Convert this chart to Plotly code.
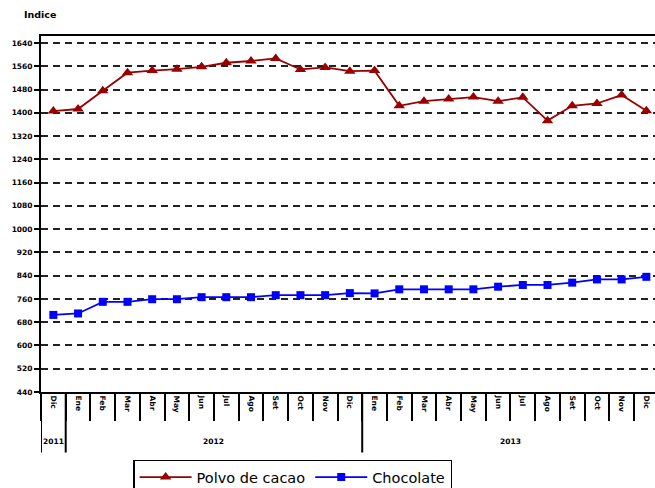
import plotly.graph_objects as go

months = ["Dic", "Ene", "Feb", "Mar", "Abr", "May", "Jun", "Jul", "Ago", "Set", "Oct", "Nov", "Dic",
          "Ene", "Feb", "Mar", "Abr", "May", "Jun", "Jul", "Ago", "Set", "Oct", "Nov", "Dic"]
years = ["2011", "2012", "2013"]
year_centers = [0, 6.5, 18.5]
year_breaks = [-0.5, 0.5, 12.5]

polvo_cacao = [1406, 1413, 1476, 1538, 1545, 1550, 1558, 1572, 1578, 1587, 1549, 1556, 1543,
               1545, 1424, 1440, 1447, 1454, 1440, 1453, 1373, 1424, 1432, 1461, 1407]
chocolate = [705, 710, 750, 750, 759, 759, 766, 766, 766, 773, 773, 773, 780,
             779, 793, 793, 793, 793, 802, 808, 808, 816, 827, 827, 836]
y_ticks = [440, 520, 600, 680, 760, 840, 920, 1000, 1080, 1160, 1240, 1320, 1400, 1480, 1560, 1640]

x = list(range(len(months)))

fig = go.Figure()
fig.add_trace(go.Scatter(
    x=x, y=polvo_cacao, name="Polvo de cacao", mode="lines+markers",
    line=dict(color="#990000", width=1.8),
    marker=dict(symbol="triangle-up", size=10, color="#990000"),
))
fig.add_trace(go.Scatter(
    x=x, y=chocolate, name="Chocolate", mode="lines+markers",
    line=dict(color="#0000FF", width=1.8),
    marker=dict(symbol="square", size=8, color="#0000FF"),
))

tickfont = dict(family="DejaVu Sans", size=7.5, color="black", weight="bold")

fig.update_xaxes(
    range=[-0.5, 24.35], tickmode="array", tickvals=x, ticktext=months,
    tickangle=90, tickfont=tickfont, ticks="", showgrid=False, zeroline=False,
    showline=True, linecolor="black", linewidth=2, mirror=True, automargin=False,
    minor=dict(ticks="outside", tick0=-0.5, dtick=1, ticklen=27, tickwidth=2,
               tickcolor="black", showgrid=False),
)
fig.update_yaxes(
    range=[440, 1664], tickmode="array", tickvals=y_ticks, tickfont=tickfont,
    ticks="outside", ticklen=5, tickwidth=1.5, tickcolor="black",
    showgrid=True, gridcolor="#222222", gridwidth=2, griddash="7px,5px",
    zeroline=False, showline=True, linecolor="black", linewidth=2, automargin=False,
)

for xb in year_breaks:
    fig.add_shape(type="line", xref="x", yref="paper", x0=xb, x1=xb, y0=0, y1=-0.17,
                  line=dict(color="black", width=2))
for yc, yl in zip(year_centers, years):
    fig.add_annotation(x=yc, y=-0.14, xref="x", yref="paper", text=yl, showarrow=False,
                       font=tickfont, yanchor="middle")

fig.add_annotation(x=-0.031, y=1.06, xref="paper", yref="paper", text="Indice",
                   showarrow=False, xanchor="left", yanchor="middle",
                   font=dict(family="DejaVu Sans", size=9.5, color="black", weight="bold"))

fig.update_layout(
    width=655, height=488,
    margin=dict(l=41, r=0, t=36, b=96, autoexpand=False),
    paper_bgcolor="white", plot_bgcolor="white",
    showlegend=True,
    legend=dict(orientation="h", x=0.15, y=-0.19, xanchor="left", yanchor="top",
                bordercolor="black", borderwidth=1.5,
                font=dict(family="DejaVu Sans", size=14.5, color="black"),
                itemwidth=52, tracegroupgap=0),
)

fig.write_html("out.html", config={"displayModeBar": False},
               post_script="document.body.style.margin='0';document.body.style.overflow='hidden';")
